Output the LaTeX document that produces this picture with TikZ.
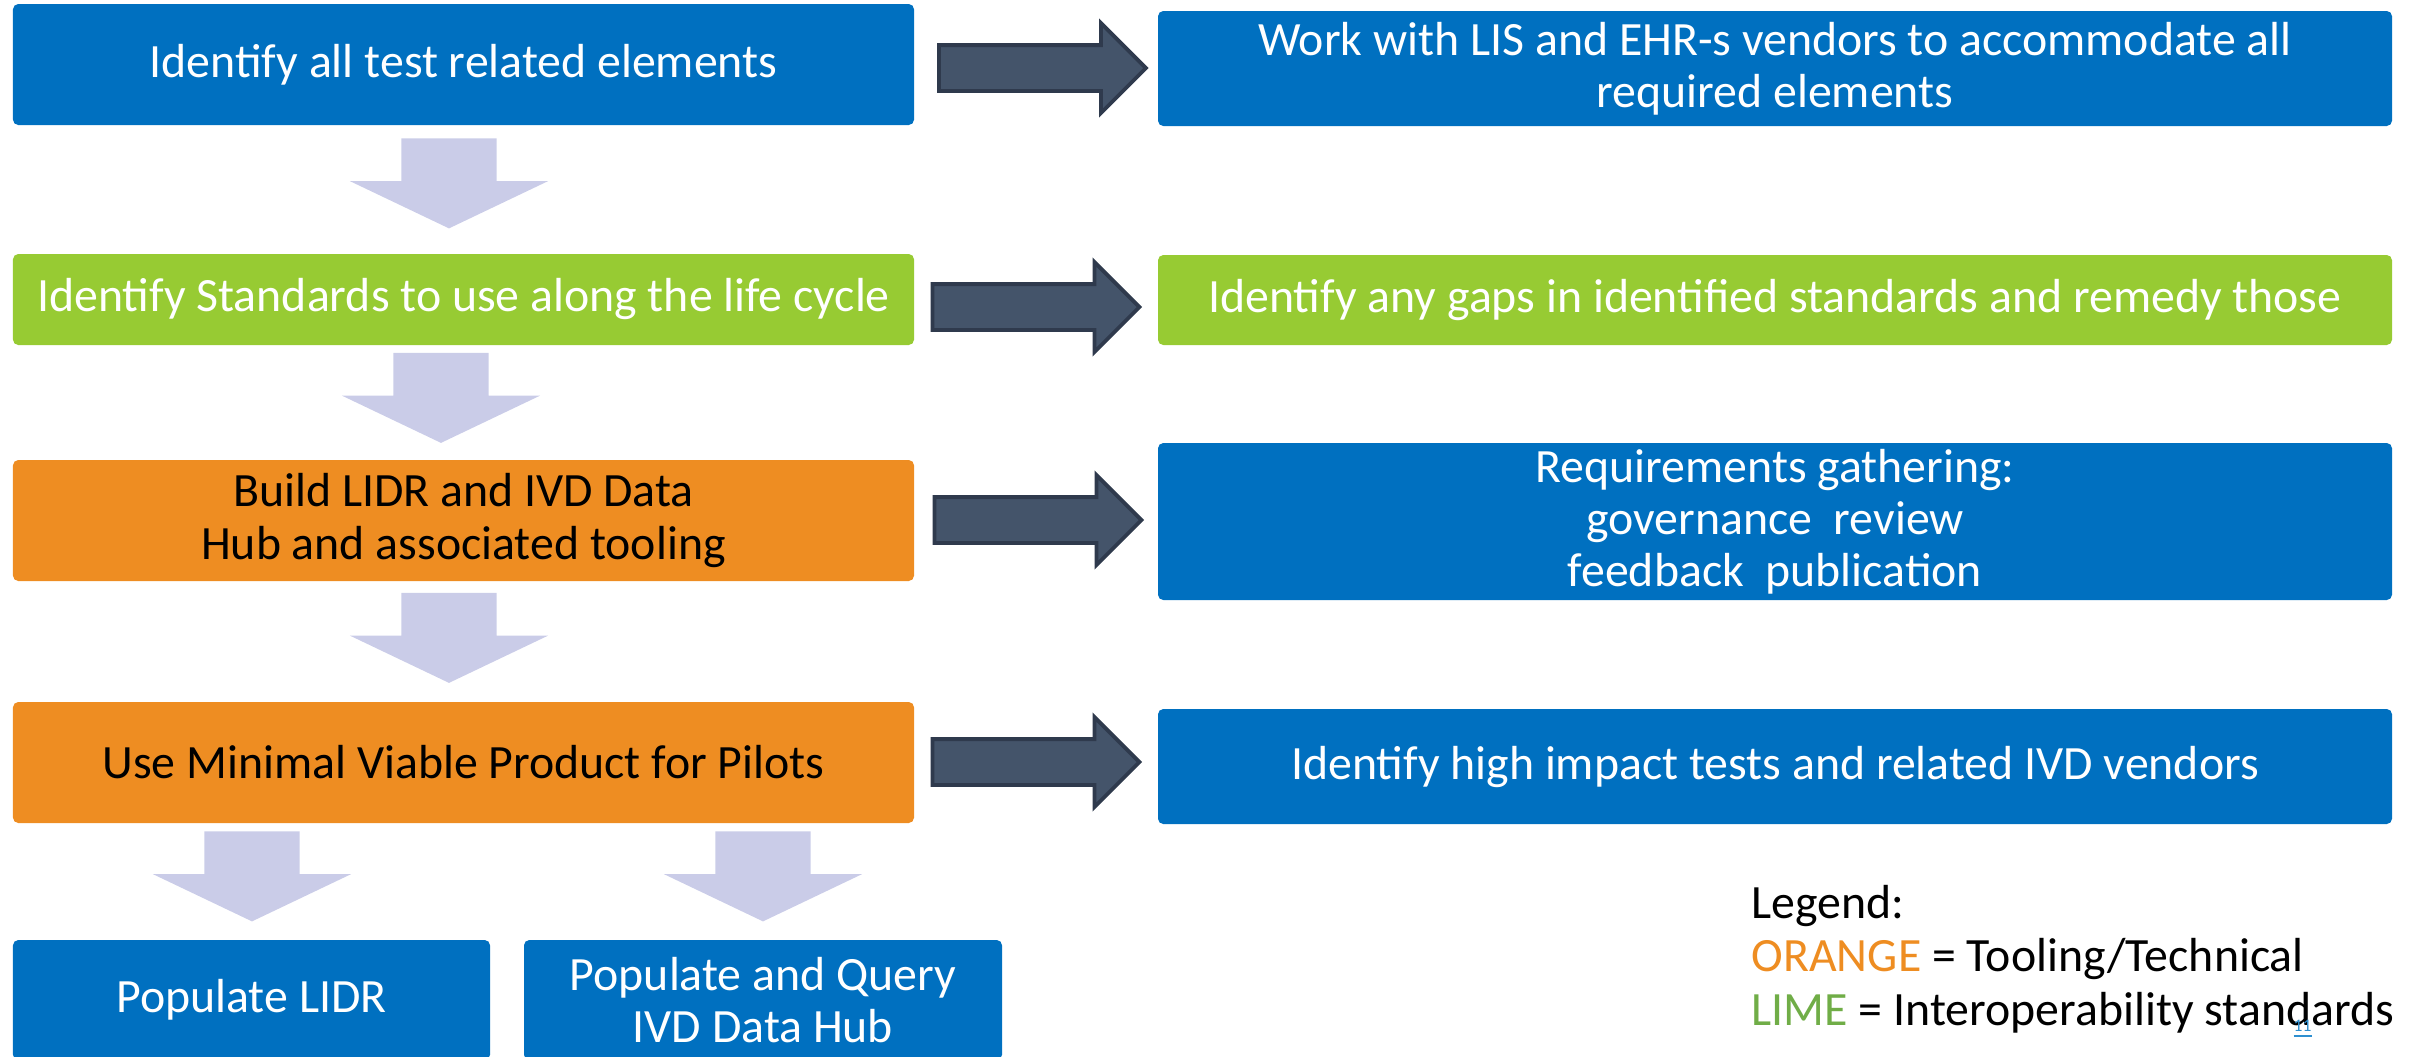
\documentclass[tikz,border=0pt]{standalone}
\usepackage{fontspec}
\setmainfont{Carlito}
\usetikzlibrary{shapes.arrows}
\definecolor{boxblue}{HTML}{0070C0}
\definecolor{boxlime}{HTML}{97CB33}
\definecolor{boxorange}{HTML}{EE8D22}
\definecolor{arrfill}{HTML}{44546A}
\definecolor{arrline}{HTML}{2F3A4D}
\definecolor{lav}{HTML}{CACCE8}
\definecolor{limetext}{HTML}{70AD47}
\definecolor{linkblue}{HTML}{2E8FD0}
\tikzset{
  stage/.style={rectangle, rounded corners=1.5pt, inner sep=0pt, align=center,
    font=\fontsize{13.6}{14.8}\selectfont, text=white},
  bluebox/.style={stage, fill=boxblue},
  limebox/.style={stage, fill=boxlime},
  orangebox/.style={stage, fill=boxorange, text=black},
  rarrow/.style={single arrow, fill=arrfill, draw=arrline, line width=1.1pt,
    minimum height=2.07cm, inner xsep=0pt, inner ysep=0.21cm,
    single arrow head extend=0.22cm},
  darrow/.style={single arrow, fill=lav, rotate=-90,
    minimum height=0.9cm, inner xsep=0pt, inner ysep=0.47cm,
    single arrow head extend=0.515cm, single arrow tip angle=129},
  legendtext/.style={anchor=base west, inner sep=0pt, font=\fontsize{13.6}{14.8}\selectfont}
}
\begin{document}
\begin{tikzpicture}
\useasboundingbox (0,0) rectangle (24.13,-10.56);
% left column
\node[bluebox, minimum width=9.01cm, minimum height=1.21cm] (b1) at (4.635,-0.645) {Identify all test related elements};
\node[limebox, minimum width=9.01cm, minimum height=0.91cm] (b2) at (4.635,-2.995) {Identify Standards to use along the life cycle};
\node[orangebox, minimum width=9.01cm, minimum height=1.21cm] (b3) at (4.635,-5.205) {Build LIDR and IVD Data\\Hub and associated tooling};
\node[orangebox, minimum width=9.01cm, minimum height=1.21cm] (b4) at (4.635,-7.625) {Use Minimal Viable Product for Pilots};
\node[bluebox, minimum width=4.77cm, minimum height=1.2cm] (b5) at (2.515,-10.0) {Populate LIDR};
\node[bluebox, minimum width=4.78cm, minimum height=1.2cm] (b6) at (7.63,-10.0) {Populate and Query\\IVD Data Hub};
% right column
\node[bluebox, minimum width=12.34cm, minimum height=1.15cm] (r1) at (17.75,-0.685) {Work with LIS and EHR-s vendors to accommodate all\\required elements};
\node[limebox, minimum width=12.34cm, minimum height=0.9cm] (r2) at (17.75,-3.0) {Identify any gaps in identified standards and remedy those};
\node[bluebox, minimum width=12.34cm, minimum height=1.57cm] (r3) at (17.75,-5.215) {Requirements gathering:\\governance\ \ review\\feedback\ \ publication};
\node[bluebox, minimum width=12.34cm, minimum height=1.15cm] (r4) at (17.75,-7.665) {Identify high impact tests and related IVD vendors};
% block arrows
\node[rarrow] (a1) at (10.31,-0.68) {};
\node[rarrow] (a2) at (10.245,-3.07) {};
\node[rarrow] (a3) at (10.265,-5.20) {};
\node[rarrow] (a4) at (10.245,-7.62) {};
\node[darrow] (d1) at (4.49,-1.72) {};
\node[darrow] (d2) at (4.41,-3.865) {};
\node[darrow] (d3) at (4.49,-6.265) {};
\node[darrow] (d4) at (2.52,-8.65) {};
\node[darrow] (d5) at (7.63,-8.65) {};
% legend
\node[legendtext] (lg1) at (17.51,-9.18) {Legend:};
\node[legendtext] (lg2) at (17.51,-9.715) {\textcolor{boxorange}{ORANGE} = Tooling/Technical};
\node[legendtext] (lg3) at (17.51,-10.25) {\textcolor{limetext}{LIME} = Interoperability standards};
\node[anchor=base west, inner sep=0pt, font=\fontsize{5}{6}\selectfont, text=linkblue] (pg) at (22.93,-10.31) {\underline{11}};
\end{tikzpicture}
\end{document}
